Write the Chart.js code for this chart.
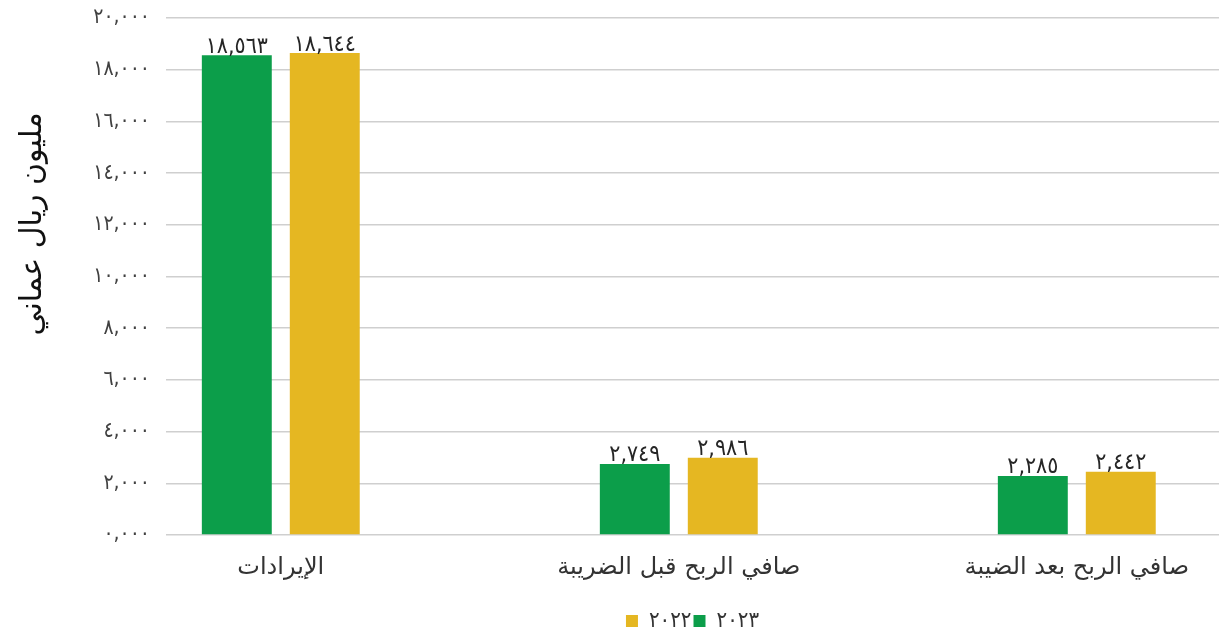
<!DOCTYPE html>
<html lang="ar">
<head>
<meta charset="utf-8">
<script src="https://cdn.jsdelivr.net/npm/chart.js@4"></script>
<style>
  html, body { margin: 0; padding: 0; background: #fff; overflow: hidden; }
  #wrap { width: 1219px; height: 631px; }
</style>
</head>
<body>
<div id="wrap"><canvas id="finChart"></canvas></div>
<script>
const categories = ['الإيرادات', 'صافي الربح قبل الضريبة', 'صافي الربح بعد الضيبة'];
const seriesNames = ['٢٠٢٣', '٢٠٢٢'];
const values2023 = [18563, 2749, 2285];
const values2022 = [18644, 2986, 2442];
const yTicks = [0, 2000, 4000, 6000, 8000, 10000, 12000, 14000, 16000, 18000, 20000];
const yTitle = 'مليون ريال عماني';

const NARROW = '"DejaVu Sans Condensed", "DejaVu Sans", sans-serif';
const WIDE = '"DejaVu Sans", sans-serif';

// 0,000 style grouping, then western digits -> arabic-indic
function arNum(n) {
    const s = String(Math.round(n)).padStart(4, '0').replace(/\B(?=(\d{3})+(?!\d))/g, ',');
    return s.replace(/[0-9]/g, d => '٠١٢٣٤٥٦٧٨٩'[d]);
}

const valueLabels = {
    id: 'valueLabels',
    afterDatasetsDraw(chart) {
        const ctx = chart.ctx;
        ctx.save();
        ctx.font = '23px ' + NARROW;
        ctx.fillStyle = '#262626';
        ctx.textAlign = 'center';
        ctx.textBaseline = 'bottom';
        chart.data.datasets.forEach((ds, i) => {
            chart.getDatasetMeta(i).data.forEach((bar, j) => {
                ctx.fillText(arNum(ds.data[j].y), bar.x, bar.y + 3);
            });
        });
        ctx.restore();
    }
};

const sideTitle = {
    id: 'sideTitle',
    afterDraw(chart) {
        const ctx = chart.ctx;
        ctx.save();
        ctx.translate(33, 224);
        ctx.rotate(-Math.PI / 2);
        ctx.font = '30px ' + WIDE;
        ctx.fillStyle = '#111';
        ctx.textAlign = 'center';
        ctx.textBaseline = 'middle';
        ctx.fillText(yTitle, 0, 0);
        ctx.restore();
    }
};

const ctx = document.getElementById('finChart').getContext('2d');
new Chart(ctx, {
    type: 'bar',
    data: {
        datasets: [{
                label: seriesNames[0],
                data: values2023.map((v, i) => ({ x: i, y: v })),
                backgroundColor: '#0c9e4a'
            },
            {
                label: seriesNames[1],
                data: values2022.map((v, i) => ({ x: i, y: v })),
                backgroundColor: '#e5b722'
            }
        ]
    },
    options: {
        responsive: true,
        maintainAspectRatio: false,
        animation: false,
        layout: {
            padding: { top: 18, left: 0, right: 0, bottom: -11 }
        },
        datasets: {
            bar: {
                barPercentage: 0.795,
                categoryPercentage: 0.442
            }
        },
        plugins: {
            legend: {
                position: 'bottom',
                fullSize: false,
                reverse: true,
                labels: {
                    boxWidth: 12,
                    boxHeight: 12,
                    padding: 2,
                    color: '#333',
                    font: { family: NARROW, size: 22 }
                }
            },
            tooltip: { enabled: false }
        },
        scales: {
            x: {
                type: 'linear',
                offset: false,
                min: -0.2884,
                max: 2.3573,
                grid: { display: false, drawTicks: false, offset: false },
                border: { display: false },
                ticks: {
                    stepSize: 1,
                    includeBounds: false,
                    padding: 18,
                    color: '#333',
                    font: { family: WIDE, size: 24 },
                    callback: v => categories[v] !== undefined ? categories[v] : ''
                },
                afterFit: s => { s.height = 73; }
            },
            y: {
                min: 0,
                max: 20000,
                grid: { color: '#cfcfcf', lineWidth: 1.5, drawTicks: false },
                border: { display: false },
                afterBuildTicks: s => { s.ticks = yTicks.map(v => ({ value: v })); },
                ticks: {
                    padding: 16,
                    color: '#404040',
                    font: { family: NARROW, size: 21 },
                    callback: v => arNum(v)
                },
                afterFit: s => {
                    s.width = 166;
                    s.paddingTop = 0;
                    s.paddingBottom = 0;
                }
            }
        }
    },
    plugins: [valueLabels, sideTitle]
});
</script>
</body>
</html>
